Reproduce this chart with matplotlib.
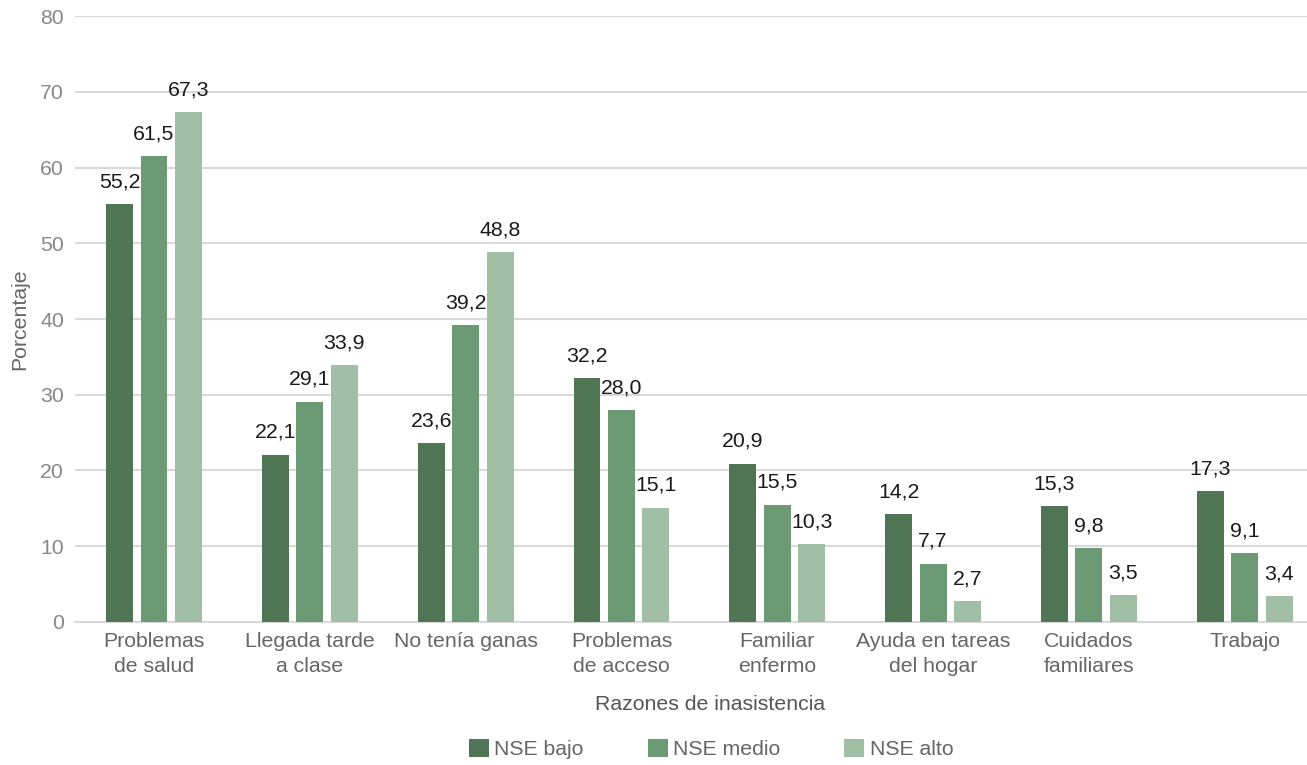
import matplotlib.pyplot as plt
import numpy as np
from matplotlib.patches import Patch

plt.rcParams['font.family'] = ['Liberation Sans', 'DejaVu Sans']

categorias = ['Problemas\nde salud', 'Llegada tarde\na clase', 'No tenía ganas',
              'Problemas\nde acceso', 'Familiar\nenfermo', 'Ayuda en tareas\ndel hogar',
              'Cuidados\nfamiliares', 'Trabajo']
nse_bajo = [55.2, 22.1, 23.6, 32.2, 20.9, 14.2, 15.3, 17.3]
nse_medio = [61.5, 29.1, 39.2, 28.0, 15.5, 7.7, 9.8, 9.1]
nse_alto = [67.3, 33.9, 48.8, 15.1, 10.3, 2.7, 3.5, 3.4]
series = ['NSE bajo', 'NSE medio', 'NSE alto']
colores = ['#507555', '#6c9a74', '#a1bfa4']

fs = 15.3
fig = plt.figure(figsize=(13.07, 7.65), dpi=100)
ax = fig.add_axes((0.0574, 0.187, 0.9426, 0.792))

x = np.arange(len(categorias))
paso = 0.221
ancho = 0.173
for i, (vals, nombre, col) in enumerate(zip([nse_bajo, nse_medio, nse_alto], series, colores)):
    pos = x + (i - 1) * paso
    ax.bar(pos, vals, width=ancho, color=col, label=nombre, zorder=3)
    for px, v in zip(pos, vals):
        ax.annotate(f'{v:.1f}'.replace('.', ','), (px, v), xytext=(0, 12),
                    textcoords='offset points', ha='center', va='baseline',
                    fontsize=fs, color='#1a1a1a')

ax.set_ylim(0, 80)
ax.set_xlim(-0.507, 7.40)
ax.set_yticks(range(0, 81, 10))
ax.yaxis.grid(True, color='#d9d9d9', linewidth=1.5, zorder=0)
ax.set_axisbelow(True)
for s in ['top', 'right', 'left']:
    ax.spines[s].set_visible(False)
ax.spines['bottom'].set_color('#d9d9d9')
ax.spines['bottom'].set_linewidth(1.5)
ax.tick_params(axis='both', length=0)
ax.tick_params(axis='y', labelsize=fs, labelcolor='#888888', pad=8)
ax.set_xticks(x)
ax.set_xticklabels(categorias, fontsize=fs, color='#666666', linespacing=1.4)
ax.tick_params(axis='x', pad=7)

ax.set_ylabel('Porcentaje', fontsize=fs, color='#666666')
ax.yaxis.set_label_coords(-0.037, 0.5)
ax.set_xlabel('Razones de inasistencia', fontsize=fs, color='#555555')
ax.xaxis.set_label_coords((710 - 75) / 1232, -0.12)

handles = [Patch(facecolor=c, edgecolor='none') for c in colores]
fig.legend(handles, series, loc='center', bbox_to_anchor=(711 / 1307, 1 - 749 / 765),
           ncol=3, frameon=False, fontsize=fs, labelcolor='#666666',
           handlelength=0.95, handleheight=0.95, handletextpad=0.25, columnspacing=3.0)

fig.savefig('out.png', dpi=100)
